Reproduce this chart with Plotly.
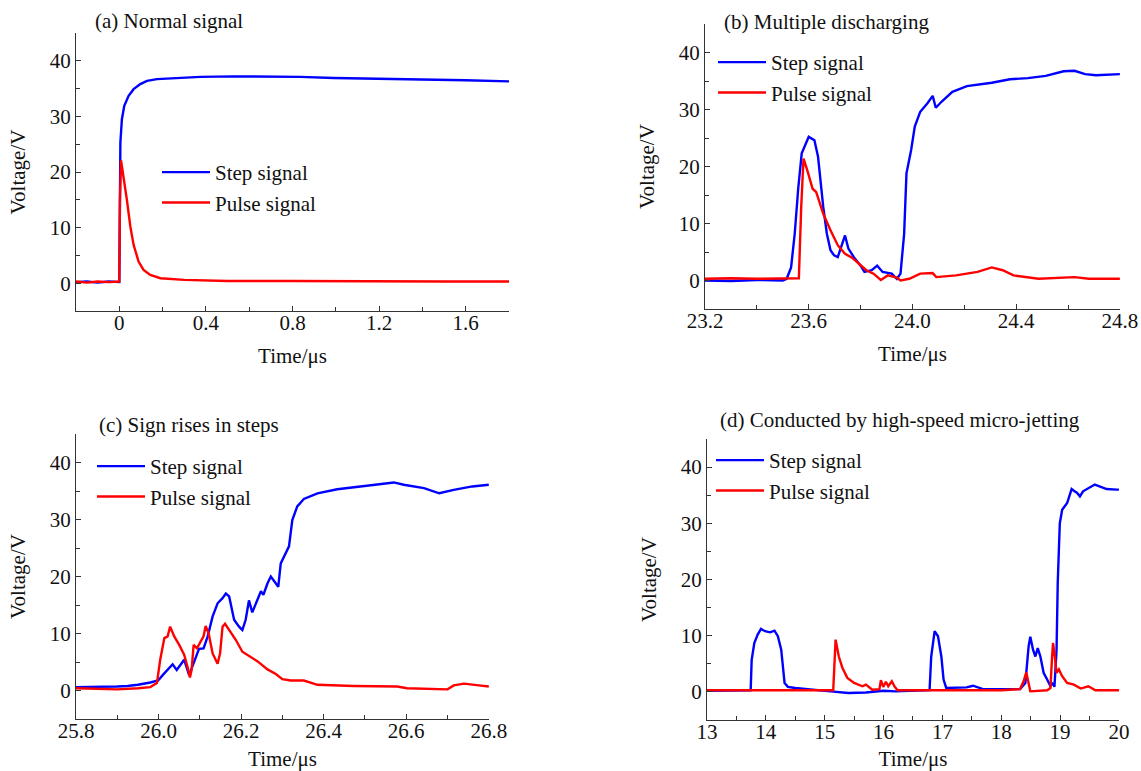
import plotly.graph_objects as go

# ---------------- data ----------------
# (a) Normal signal
A_T_STEP = [-0.2, -0.15, -0.1, -0.05, 0.0, 0.002, 0.005, 0.012, 0.023, 0.043, 0.066, 0.097,
            0.128, 0.174, 0.25, 0.374, 0.528, 0.68, 0.835, 0.99, 1.2, 1.4, 1.6, 1.8]
A_V_STEP = [0.2, 0.3, 0.1, 0.3, 0.2, 20.0, 25.3, 29.5, 31.9, 33.7, 34.9, 35.8,
            36.4, 36.7, 36.9, 37.1, 37.2, 37.2, 37.1, 36.9, 36.8, 36.7, 36.5, 36.3]
A_T_PULSE = [-0.2, -0.15, -0.1, -0.05, 0.0, 0.003, 0.008, 0.02, 0.035, 0.051, 0.066, 0.089,
             0.112, 0.143, 0.19, 0.3, 0.5, 0.8, 1.2, 1.5, 1.8]
A_V_PULSE = [0.3, 0.1, 0.3, 0.2, 0.3, 15.0, 22.1, 19.2, 15.0, 10.2, 6.9, 3.9,
             2.4, 1.5, 0.9, 0.6, 0.4, 0.4, 0.3, 0.3, 0.3]

# (b) Multiple discharging
B_T_STEP = [23.2, 23.3, 23.4, 23.5, 23.515, 23.532, 23.546, 23.56, 23.573, 23.6, 23.622, 23.636,
            23.656, 23.67, 23.684, 23.698, 23.712, 23.726, 23.74, 23.753, 23.774, 23.8, 23.815,
            23.843, 23.864, 23.885, 23.92, 23.94, 23.954, 23.968, 23.977, 23.995, 24.009, 24.03,
            24.058, 24.078, 24.09, 24.113, 24.154, 24.21, 24.306, 24.376, 24.445, 24.514, 24.583,
            24.625, 24.666, 24.708, 24.8]
B_V_STEP = [0.0, -0.1, 0.1, 0.0, 0.3, 2.3, 8.2, 16.4, 22.3, 25.2, 24.6, 21.7,
            12.9, 8.2, 5.3, 4.4, 4.1, 5.9, 7.9, 5.6, 4.1, 2.6, 1.5,
            1.8, 2.6, 1.5, 1.2, 0.3, 1.2, 8.2, 18.8, 22.9, 27.0, 29.6,
            31.1, 32.4, 30.3, 31.4, 33.1, 34.1, 34.7, 35.3, 35.5, 35.9, 36.7,
            36.8, 36.2, 36.0, 36.2]
B_T_PULSE = [23.2, 23.3, 23.4, 23.5, 23.562, 23.571, 23.58, 23.594, 23.615, 23.629, 23.656,
             23.684, 23.712, 23.74, 23.767, 23.795, 23.822, 23.85, 23.878, 23.905, 23.94, 23.954,
             23.988, 24.03, 24.078, 24.092, 24.168, 24.251, 24.306, 24.348, 24.39, 24.486, 24.625,
             24.68, 24.8]
B_V_PULSE = [0.3, 0.4, 0.3, 0.4, 0.4, 12.9, 21.4, 19.4, 16.1, 15.5, 11.7,
             8.8, 6.2, 4.7, 4.0, 2.9, 1.8, 1.2, 0.1, 0.9, 0.5, 0.0,
             0.3, 1.2, 1.3, 0.6, 0.9, 1.5, 2.3, 1.8, 0.9, 0.3, 0.6,
             0.3, 0.3]

# (c) Sign rises in steps
C_T_STEP = [25.8, 25.85, 25.9, 25.925, 25.95, 25.98, 25.999, 26.01, 26.022, 26.034, 26.044, 26.054,
            26.062, 26.074, 26.082, 26.09, 26.098, 26.109, 26.119, 26.131, 26.143, 26.155, 26.163,
            26.171, 26.183, 26.195, 26.203, 26.211, 26.219, 26.227, 26.235, 26.248, 26.254, 26.264,
            26.272, 26.281, 26.29, 26.296, 26.308, 26.316, 26.324, 26.336, 26.352, 26.385, 26.433,
            26.498, 26.57, 26.594, 26.643, 26.68, 26.715, 26.76, 26.8]
C_V_STEP = [0.6, 0.6, 0.7, 0.8, 1.0, 1.4, 1.75, 2.7, 3.6, 4.6, 3.6, 4.5,
            5.4, 2.7, 4.2, 5.7, 7.3, 7.4, 9.5, 13.0, 15.3, 16.2, 17.0,
            16.5, 12.4, 11.2, 10.6, 12.4, 15.8, 13.7, 15.0, 17.4, 16.8, 18.8,
            20.0, 19.1, 18.2, 22.3, 24.1, 25.3, 29.9, 32.3, 33.6, 34.6, 35.3,
            35.9, 36.5, 36.1, 35.5, 34.6, 35.2, 35.8, 36.1]
C_T_PULSE = [25.8, 25.85, 25.9, 25.95, 25.98, 25.996, 26.004, 26.014, 26.022, 26.028, 26.038, 26.05,
             26.062, 26.07, 26.076, 26.08, 26.085, 26.093, 26.101, 26.109, 26.114, 26.121, 26.131,
             26.143, 26.149, 26.155, 26.161, 26.171, 26.187, 26.203, 26.219, 26.24, 26.264, 26.284,
             26.3, 26.32, 26.352, 26.385, 26.473, 26.578, 26.602, 26.7, 26.715, 26.74, 26.776, 26.8]
C_V_PULSE = [0.4, 0.3, 0.2, 0.4, 0.6, 1.3, 5.4, 9.2, 9.5, 11.2, 9.5, 8.0,
             6.3, 4.2, 2.3, 3.6, 8.0, 7.4, 8.6, 9.5, 11.3, 10.1, 6.5,
             4.7, 6.5, 11.2, 11.7, 10.6, 8.9, 6.8, 6.1, 5.1, 3.7, 2.9,
             2.0, 1.75, 1.75, 1.0, 0.8, 0.7, 0.4, 0.2, 0.9, 1.2, 0.9, 0.7]

# (d) Conducted by high-speed micro-jetting
D_T_STEP = [13.0, 13.4, 13.742, 13.759, 13.804, 13.861, 13.918, 13.987, 14.072, 14.147, 14.204,
            14.261, 14.29, 14.318, 14.375, 14.5, 15.1, 15.4, 15.7, 16.0, 16.2, 16.782, 16.81,
            16.868, 16.925, 16.982, 17.02, 17.065, 17.41, 17.52, 17.69, 18.32, 18.41, 18.465,
            18.494, 18.54, 18.58, 18.62, 18.665, 18.72, 18.78, 18.836, 18.88, 18.904, 18.94,
            18.96, 18.995, 19.035, 19.12, 19.196, 19.235, 19.29, 19.337, 19.39, 19.59, 19.79, 19.96, 20.0]
D_V_STEP = [0.2, 0.2, 0.3, 5.7, 8.7, 10.2, 11.2, 10.8, 10.6, 10.9, 9.9,
            7.5, 4.6, 1.6, 0.9, 0.7, 0.1, -0.2, -0.1, 0.2, 0.1, 0.3, 6.3,
            10.8, 9.9, 6.3, 2.2, 0.7, 0.8, 1.1, 0.5, 0.5, 1.6, 8.1,
            9.8, 7.5, 6.3, 7.8, 6.3, 3.4, 2.2, 1.0, 1.6, 0.9, 7.5,
            19.4, 30.0, 32.4, 33.6, 36.1, 35.8, 35.4, 34.8, 35.7, 36.9, 36.1, 36.0, 36.0]
D_T_PULSE = [13.0, 14.0, 15.0, 15.145, 15.185, 15.24, 15.3, 15.385, 15.5, 15.64, 15.7, 15.81,
             15.93, 15.955, 15.995, 16.04, 16.08, 16.14, 16.19, 16.24, 17.0, 18.0, 18.32, 18.38,
             18.425, 18.465, 18.494, 18.78, 18.836, 18.864, 18.88, 18.91, 18.94, 18.98, 19.035,
             19.12, 19.235, 19.35, 19.48, 19.6, 20.0]
D_V_PULSE = [0.3, 0.3, 0.3, 0.3, 9.3, 6.3, 4.3, 2.5, 1.6, 1.0, 1.3, 0.4,
             0.5, 2.1, 0.9, 1.8, 1.0, 1.9, 0.9, 0.3, 0.3, 0.3, 0.5, 1.9,
             3.5, 1.6, 0.1, 0.3, 0.7, 6.3, 8.7, 6.3, 3.4, 4.0, 2.8,
             1.6, 1.3, 0.6, 1.0, 0.3, 0.3]

PANELS = [
    dict(title="(a) Normal signal", ts=A_T_STEP, vs=A_V_STEP, tp=A_T_PULSE, vp=A_V_PULSE,
         xr=[-0.2, 1.8], dt=0.4, t0=0.0, mdt=0.2, fmt=""),
    dict(title="(b) Multiple discharging", ts=B_T_STEP, vs=B_V_STEP, tp=B_T_PULSE, vp=B_V_PULSE,
         xr=[23.2, 24.8005], dt=0.4, t0=23.2, mdt=0.2, fmt=".1f"),
    dict(title="(c) Sign rises in steps", ts=C_T_STEP, vs=C_V_STEP, tp=C_T_PULSE, vp=C_V_PULSE,
         xr=[25.8, 26.8005], dt=0.2, t0=25.8, mdt=0.1, fmt=".1f"),
    dict(title="(d) Conducted by high-speed micro-jetting", ts=D_T_STEP, vs=D_V_STEP, tp=D_T_PULSE,
         vp=D_V_PULSE, xr=[13, 20.001], dt=1, t0=13, mdt=0.5, fmt=""),
]

# ---------------- layout geometry (pixels) ----------------
W, H = 1141, 771
BOXES = [(76, 509, 33, 311), (705, 1120, 24, 309), (76, 489, 434, 719), (707, 1119, 439, 720)]
TITLE_POS = [(93, 21, "left"), (722, 22, "left"), (97, 425, "left"), (900, 420, "center")]
LEGEND_POS = [(157, 152), (713, 42), (92, 446), (711, 440)]
XTITLE_STANDOFF = [13, 13, 10, 10]

FONT = "Liberation Serif, Times New Roman, serif"
BLUE, RED = "#0000FF", "#FF0000"

fig = go.Figure()
layout = dict(width=W, height=H, margin=dict(l=0, r=0, t=0, b=0, autoexpand=False),
              paper_bgcolor="white", plot_bgcolor="white",
              font=dict(family=FONT, size=21, color="black"), annotations=[])

for i, p in enumerate(PANELS):
    n = "" if i == 0 else str(i + 1)
    leg = "legend" if i == 0 else "legend" + str(i + 1)
    fig.add_trace(go.Scatter(x=p["ts"], y=p["vs"], mode="lines", name="Step signal",
                             line=dict(color=BLUE, width=2.4), xaxis="x" + n, yaxis="y" + n,
                             legend=leg))
    fig.add_trace(go.Scatter(x=p["tp"], y=p["vp"], mode="lines", name="Pulse signal",
                             line=dict(color=RED, width=2.4), xaxis="x" + n, yaxis="y" + n,
                             legend=leg))
    x0, x1, y0, y1 = BOXES[i]
    ax_common = dict(showline=True, linecolor="#333", linewidth=1.3, mirror=False,
                     ticks="inside", ticklen=5, tickwidth=1.2, tickcolor="#333",
                     showgrid=False, zeroline=False, automargin=False,
                     tickfont=dict(family=FONT, size=21, color="#111"))
    layout["xaxis" + n] = dict(ax_common, domain=[x0 / W, x1 / W], range=p["xr"],
                               tick0=p["t0"], dtick=p["dt"], tickformat=p["fmt"],
                               anchor="y" + n, ticklabelstandoff=-7,
                               minor=dict(ticks="inside", ticklen=4, tickwidth=1,
                                          tickcolor="#333", dtick=p["mdt"], tick0=p["t0"]),
                               title=dict(text="Time/μs", standoff=XTITLE_STANDOFF[i],
                                          font=dict(family=FONT, size=21, color="#111")))
    layout["yaxis" + n] = dict(ax_common, domain=[1 - y1 / H, 1 - y0 / H], range=[-5, 45],
                               tick0=0, dtick=10, anchor="x" + n,
                               minor=dict(ticks="inside", ticklen=4, tickwidth=1,
                                          tickcolor="#333", dtick=5, tick0=0),
                               title=dict(text="Voltage/V", standoff=18,
                                          font=dict(family=FONT, size=21, color="#111")))
    tx, ty, ta = TITLE_POS[i]
    layout["annotations"].append(dict(text=p["title"], x=tx / W, y=1 - ty / H, xref="paper",
                                      yref="paper", xanchor=ta, yanchor="middle", showarrow=False,
                                      font=dict(family=FONT, size=21, color="#111")))
    lx, ly = LEGEND_POS[i]
    layout[leg] = dict(x=lx / W, y=1 - ly / H, xanchor="left", yanchor="top",
                       bgcolor="rgba(0,0,0,0)", borderwidth=0, itemwidth=48,
                       font=dict(family=FONT, size=21, color="#111"), tracegroupgap=0)

layout["showlegend"] = True
fig.update_layout(**layout)
fig.write_html("out.html", post_script="document.body.style.margin='0px';",
               config={"displayModeBar": False})
